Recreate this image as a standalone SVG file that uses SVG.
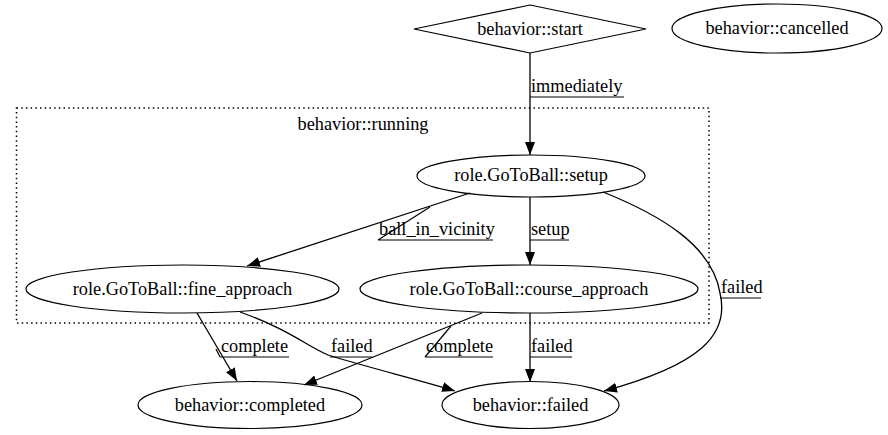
<svg xmlns="http://www.w3.org/2000/svg" width="888" height="435" viewBox="0 0 888 435">
<style>
text{font-family:"Liberation Serif","Times New Roman",serif;font-size:18.3px;fill:#000}
.n{fill:none;stroke:#000;stroke-width:1.2}
.c{text-anchor:middle}
.e{fill:none;stroke:#000;stroke-width:1.3}
.u{fill:none;stroke:#000;stroke-width:1.2}
.cl{fill:none;stroke:#000;stroke-width:1.5;stroke-dasharray:1.5,3.2}
</style>
<defs>
<marker id="ah" viewBox="0 0 13 10" refX="13" refY="5" markerWidth="13" markerHeight="10" markerUnits="userSpaceOnUse" orient="auto">
<path d="M0,0 L13,5 L0,10 z" fill="#000"/>
</marker>
</defs>
<rect width="888" height="435" fill="#fff"/>
<g id="cluster_running">
<rect class="cl" x="16.5" y="108" width="692.5" height="215"/>
<text class="c" x="363" y="130">behavior::running</text>
</g>
<g id="start">
<polygon class="n" points="530,5 646,29 530,53 414,29"/>
<text class="c" x="530" y="35">behavior::start</text>
</g>
<g id="cancelled">
<ellipse class="n" cx="777" cy="28.5" rx="105" ry="24.5"/>
<text class="c" x="777" y="34">behavior::cancelled</text>
</g>
<g id="setup">
<ellipse class="n" cx="531" cy="176" rx="114" ry="21"/>
<text class="c" x="531" y="181">role.GoToBall::setup</text>
</g>
<g id="fine_approach">
<ellipse class="n" cx="182.5" cy="289" rx="156.5" ry="24"/>
<text class="c" x="182.5" y="295">role.GoToBall::fine_approach</text>
</g>
<g id="course_approach">
<ellipse class="n" cx="529" cy="289" rx="169" ry="24"/>
<text class="c" x="529" y="295">role.GoToBall::course_approach</text>
</g>
<g id="completed">
<ellipse class="n" cx="250" cy="405" rx="112" ry="23.5"/>
<text class="c" x="250" y="411">behavior::completed</text>
</g>
<g id="failed">
<ellipse class="n" cx="530.5" cy="405" rx="88.5" ry="23.5"/>
<text class="c" x="530.5" y="411">behavior::failed</text>
</g>
<g id="connectors">
<path class="e" d="M530,53 L530,155" marker-end="url(#ah)"/>
<text x="531" y="92">immediately</text>
<path class="u" d="M530,97 L624,97"/>

<path class="e" d="M470,193 L247,266" marker-end="url(#ah)"/>
<text x="379" y="235">ball_in_vicinity</text>
<path class="u" d="M378,240 L493,240 M378,240 L430,207"/>

<path class="e" d="M530,197 L530,265" marker-end="url(#ah)"/>
<text x="531" y="235">setup</text>
<path class="u" d="M530,240 L569,240"/>

<path class="e" d="M603,192 C660,215 712,245 720,293 C730,335 700,365 604,391" marker-end="url(#ah)"/>
<text x="721" y="293">failed</text>
<path class="u" d="M720,298 L761,298"/>

<path class="e" d="M197,313 L237,381" marker-end="url(#ah)"/>
<text x="221" y="352">complete</text>
<path class="u" d="M220,357 L289,357 M220,357 L216,349"/>

<path class="e" d="M240,312 C290,330 305,345 328,355 C370,368 420,380 455,391" marker-end="url(#ah)"/>
<text x="331" y="352">failed</text>
<path class="u" d="M330,357 L372,357"/>

<path class="e" d="M482,313 L304,385" marker-end="url(#ah)"/>
<text x="426" y="352">complete</text>
<path class="u" d="M425,357 L493,357 M425,357 L451,326"/>

<path class="e" d="M530,313 L530,382" marker-end="url(#ah)"/>
<text x="531" y="352">failed</text>
<path class="u" d="M530,357 L572,357"/>
</g>
</svg>
